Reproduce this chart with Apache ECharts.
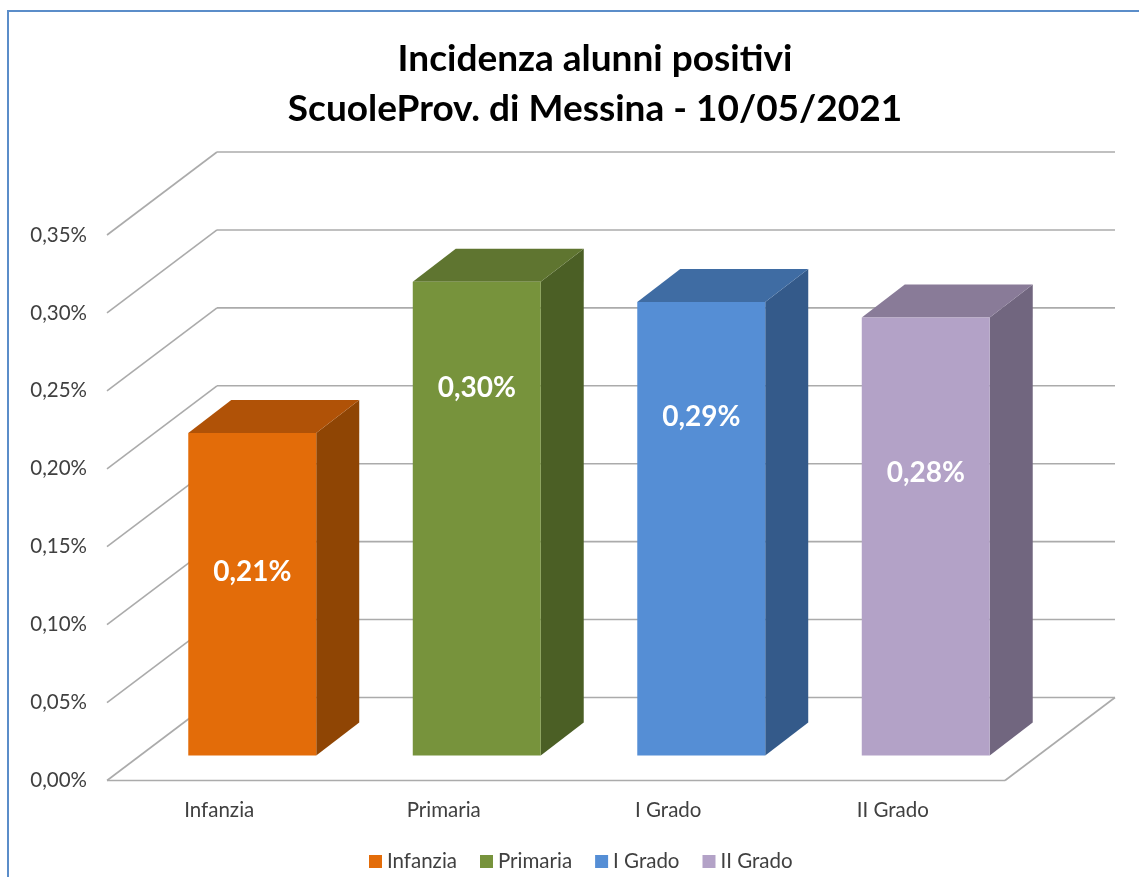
<!DOCTYPE html>
<html>
<head>
<meta charset="utf-8">
<title>Incidenza alunni positivi</title>
<script src="https://cdn.jsdelivr.net/npm/echarts@6/dist/echarts.min.js"></script>
<style>
    html, body { margin: 0; padding: 0; background: #fff; }
    #main { width: 1139px; height: 877px; }
</style>
</head>
<body>
<div id="main"></div>
<script>
var categories = ['Infanzia', 'Primaria', 'I Grado', 'II Grado'];
var values = [0.207, 0.304, 0.291, 0.281];
var yTicks = [0, 0.05, 0.10, 0.15, 0.20, 0.25, 0.30, 0.35];
// dove stanno le etichette sulla barra (in unita' dell'asse)
var labelAt = [0.134, 0.252, 0.233, 0.197];

var frontColors = ['#E36C09', '#77933C', '#558ED5', '#B3A2C7'];
var sideColors = ['#8F4504', '#4B5F25', '#345A8A', '#71667F'];
var topColors = ['#B05207', '#5F7530', '#3F6CA3', '#897B98'];

var fontName = 'Lato, "Open Sans", sans-serif';
var wallX = 110, wallY = -83;      // profondita' pareti
var barX = 33, barY = -25;         // barra rispetto al piano frontale
var depthX = 43, depthY = -33;     // profondita' barra
var lineColor = '#ABABAB';

function formatPct(v) {
    return v.toFixed(2).replace('.', ',') + '%';
}

function line(x1, y1, x2, y2) {
    return {
        type: 'line',
        shape: { x1: x1, y1: y1, x2: x2, y2: y2 },
        style: { stroke: lineColor, lineWidth: 1.6 }
    };
}

function poly(points, color) {
    return { type: 'polygon', shape: { points: points }, style: { fill: color } };
}

function renderWall(params, api) {
    var sys = params.coordSys;
    var left = sys.x, right = sys.x + sys.width;
    var y = api.coord([0, api.value(0)])[1];
    var items = [
        line(left, y, left + wallX, y + wallY),
        line(left + wallX, y + wallY, right + wallX, y + wallY)
    ];
    if (params.dataIndex === 0) {
        items.push(line(left, y, right, y));
        items.push(line(right, y, right + wallX, y + wallY));
    }
    return { type: 'group', children: items };
}

function renderBar(params, api) {
    var idx = api.value(0);
    var c = params.seriesIndex - 1;
    var w = api.size([1, 0])[0] * 0.57;
    var top = api.coord([idx, api.value(1)]);
    var base = api.coord([idx, 0]);
    var x0 = top[0] + barX - w / 2, x1 = x0 + w;
    var y0 = top[1] + barY, y1 = base[1] + barY;
    return {
        type: 'group',
        children: [
            poly([[x1, y0], [x1 + depthX, y0 + depthY], [x1 + depthX, y1 + depthY], [x1, y1]], sideColors[c]),
            poly([[x0, y0], [x0 + depthX, y0 + depthY], [x1 + depthX, y0 + depthY], [x1, y0]], topColors[c]),
            { type: 'rect', shape: { x: x0, y: y0, width: w, height: y1 - y0 }, style: { fill: frontColors[c] } },
            {
                type: 'text',
                style: {
                    x: x0 + w / 2,
                    y: api.coord([idx, labelAt[c]])[1],
                    text: formatPct(api.value(1)),
                    fill: '#fff',
                    align: 'center',
                    verticalAlign: 'middle',
                    font: 'bold 28px ' + fontName
                }
            }
        ]
    };
}

var series = [{
    type: 'custom',
    silent: true,
    z: 1,
    renderItem: renderWall,
    encode: { y: 0 },
    data: yTicks.map(function (t) { return [t]; })
}];
categories.forEach(function (name, i) {
    series.push({
        name: name,
        type: 'custom',
        z: 2,
        itemStyle: { color: frontColors[i] },
        renderItem: renderBar,
        encode: { x: 0, y: 1 },
        data: [[i, values[i]]]
    });
});

var myChart = echarts.init(document.getElementById('main'));
myChart.setOption({
    animation: false,
    backgroundColor: '#fff',
    title: {
        text: 'Incidenza alunni positivi\nScuoleProv. di Messina - 10/05/2021',
        left: 590,
        top: 29,
        textAlign: 'center',
        textStyle: { fontFamily: fontName, fontWeight: 'bold', fontSize: 37, lineHeight: 50, color: '#000' }
    },
    legend: {
        data: categories,
        left: 364,
        top: 846,
        icon: 'rect',
        itemWidth: 13,
        itemHeight: 13,
        itemGap: 23,
        textStyle: { fontFamily: fontName, fontSize: 20.5, color: '#404040' }
    },
    grid: { left: 107, top: 235, width: 898, height: 545.5 },
    xAxis: {
        type: 'category',
        data: categories,
        axisLine: { show: false },
        axisTick: { show: false },
        axisLabel: { fontFamily: fontName, fontSize: 20.5, color: '#404040', margin: 19 }
    },
    yAxis: {
        type: 'value',
        min: 0,
        max: 0.35,
        interval: 0.05,
        splitLine: { show: false },
        axisLine: { show: false },
        axisTick: { show: false },
        axisLabel: { fontFamily: fontName, fontSize: 20.5, color: '#404040', margin: 20, formatter: formatPct }
    },
    graphic: [
        { type: 'rect', shape: { x: 7, y: 10, width: 1132, height: 2 }, style: { fill: '#5B8DC9' } },
        { type: 'rect', shape: { x: 7, y: 10, width: 2, height: 867 }, style: { fill: '#5B8DC9' } }
    ],
    series: series
});
</script>
</body>
</html>
